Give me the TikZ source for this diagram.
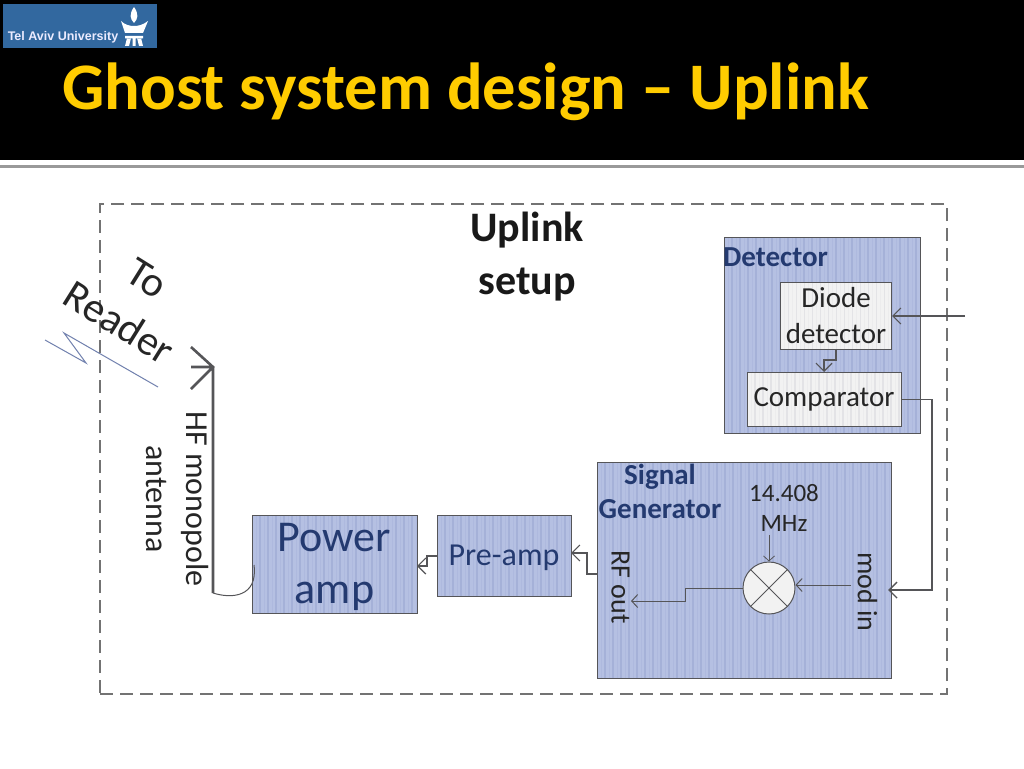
\documentclass[tikz,border=0pt]{standalone}
\usepackage{fontspec}
\setmainfont{Carlito}
\newfontfamily\logofont{Liberation Sans}
\usetikzlibrary{arrows.meta}
\definecolor{boxblue}{HTML}{B5C0E2}
\definecolor{stripeblue}{HTML}{A5B1D8}
\definecolor{boxgrey}{HTML}{F2F2F2}
\definecolor{stripegrey}{HTML}{E3E3E6}
\definecolor{navy}{HTML}{243A70}
\definecolor{edge}{HTML}{555558}
\definecolor{logoblue}{HTML}{32689F}
\definecolor{gold}{HTML}{FFCC00}
\tikzset{
  x=1pt,y=-1pt,
  striped/.style n args={2}{path picture={
    \foreach \k in {0,8,...,320}
      \draw[#1,line width=1.4pt] ([xshift=\k pt]path picture bounding box.south west) -- ([xshift=\k pt]path picture bounding box.north west);
    \foreach \k in {4,12,...,320}
      \draw[#2,line width=1pt] ([xshift=\k pt]path picture bounding box.south west) -- ([xshift=\k pt]path picture bounding box.north west);
  }},
  bluebox/.style={draw=edge,line width=1pt,fill=boxblue,striped={stripeblue}{stripeblue!45!boxblue},inner sep=0pt,align=center},
  greybox/.style={draw=edge,line width=1pt,fill=boxgrey,striped={stripegrey}{stripegrey!40!boxgrey},inner sep=0pt,align=center,text=black!85},
  tag/.style={inner sep=0pt,align=center,font=\fontsize{28}{32}\selectfont,text=black!85},
  head/.style={inner sep=0pt,align=center,font=\bfseries\fontsize{29}{34}\selectfont,text=navy},
  conn/.style={draw=edge,line width=1.2pt,-{Straight Barb[length=8pt,width=16pt,line width=1.2pt]}},
  thin conn/.style={draw=edge,line width=1pt,-{Straight Barb[length=6pt,width=13pt,line width=1pt]}},
}
\begin{document}
\begin{tikzpicture}
\useasboundingbox (0,0) rectangle (1024,768);
\fill[white] (0,0) rectangle (1024,768);
\fill[black] (0,0) rectangle (1024,160);
\fill[black!40] (0,165) rectangle (1024,167.5);
% logo
\node[fill=logoblue,minimum width=154pt,minimum height=44pt,inner sep=0pt] (logo) at (80,26) {};
\node[inner sep=0pt,text=white!92!blue,font=\logofont\bfseries\fontsize{12.5}{14}\selectfont] (logotext) at (63,37) {Tel Aviv University};
\fill[white] (134,7) .. controls (129,14) and (130,19) .. (134,23) .. controls (138,19) and (139,14) .. (134,7) -- cycle;
\fill[white] (121,21) .. controls (125,25) and (130,26) .. (134,26) .. controls (138,26) and (143,25) .. (148,21) -- (143,33) -- (125,33) -- cycle;
\fill[white] (125,36) rectangle (143,38.5) (127,38) -- (131,38) -- (129,46) -- (125,46) -- cycle (137,38) -- (141,38) -- (143,46) -- (139,46) -- cycle (132.5,38) rectangle (135.5,46);
% title
\node[anchor=base west,inner sep=0pt,text=gold,font=\bfseries\fontsize{66.5}{66}\selectfont] (title) at (62,109) {Ghost system design – Uplink};
% frame
\node[draw=black!55,dash pattern=on 13pt off 7pt,line width=1.2pt,minimum width=847pt,minimum height=490pt,inner sep=0pt] (frame) at (523.5,449) {};
\node[inner sep=0pt,align=center,font=\bfseries\fontsize{42}{53}\selectfont,text=black!90] (setup) at (527,257) {Uplink\\setup};
% detector
\node[bluebox,minimum width=196pt,minimum height=196pt] (detector) at (822,335) {};
\node[head,anchor=base west] (dettext) at (723,266) {Detector};
\node[greybox,minimum width=111pt,minimum height=67pt,font=\fontsize{29}{36}\selectfont] (diode) at (836,316) {Diode\\detector};
\node[greybox,minimum width=154pt,minimum height=54pt,font=\fontsize{29}{30}\selectfont] (comp) at (824,399.5) {Comparator};
% signal generator
\node[bluebox,minimum width=294pt,minimum height=216pt] (siggen) at (744,570) {};
\node[head] (sigtext) at (660,491) {Signal\\Generator};
\node[tag,font=\fontsize{25}{30}\selectfont] (freq) at (784,508) {14.408\\MHz};
\node[draw=edge,line width=1pt,circle,fill=boxgrey,minimum size=52pt,inner sep=0pt] (mix) at (769,588) {};
\draw[edge,line width=1pt] (mix.45) -- (mix.225) (mix.135) -- (mix.315);
\node[tag,rotate=-90] (rfout) at (620.5,587) {RF out};
\node[tag,rotate=-90] (modin) at (867.5,592) {mod in};
% amps
\node[bluebox,minimum width=134pt,minimum height=81pt] (pre) at (504,555.5) {};
\node[inner sep=0pt,font=\fontsize{32}{34}\selectfont,text=navy] (pretext) at (504,558) {Pre-amp};
\node[bluebox,minimum width=165pt,minimum height=98pt] (power) at (334.5,564) {};
\node[inner sep=0pt,align=center,font=\fontsize{44}{52}\selectfont,text=navy] (powertext) at (334.5,567) {Power\\amp};
% antenna
\coordinate (anttop) at (213,367);
\coordinate (antbot) at (213,593);
\coordinate (barbup) at (191,347);
\coordinate (barbmid) at (191,367);
\coordinate (barbdn) at (191,389);
\draw[edge,line width=2.6pt] (antbot) -- (anttop) (barbup) -- (anttop) -- (barbdn) (barbmid) -- (anttop);
\draw[edge,line width=1pt] (antbot) .. controls (232,599) and (258,597) .. (254,565);
\node[tag,rotate=-90,font=\fontsize{32}{40}\selectfont] (anttext) at (177,499) {HF monopole\\antenna};
\node[tag,rotate=-32,font=\fontsize{42}{52}\selectfont] (reader) at (133,301) {To\\Reader};
\coordinate (z1) at (45,340);
\coordinate (z2) at (86,363);
\coordinate (z3) at (64,333);
\coordinate (z4) at (158,387);
\draw[stripeblue!60!navy,line width=1pt] (z1) -- (z2) -- (z3) -- (z4);
% connectors
\coordinate (inp) at (965,316);
\draw[conn] (inp) -- (diode.east);
\draw[conn,line width=1.5pt] (diode.south) -- ++(0,10) -| (comp.north);
\coordinate (modhit) at (888,590);
\draw[draw=edge,line width=1.8pt,-{Straight Barb[length=8pt,width=16pt,line width=1.4pt]}] (comp.east) -- (932,399.5) |- (modhit);
\coordinate (modsrc) at (851,585);
\draw[thin conn] (modsrc) -- (mix.east |- modsrc);
\coordinate (freqbot) at (769,535);
\draw[thin conn,-{Straight Barb[length=5pt,width=11pt,line width=.8pt]}] (freqbot) -- (mix.north);
\coordinate (rfhit) at (631,601);
\draw[thin conn] (mix.west) -- (685,588) -- (685,601) -- (rfhit);
\coordinate (sgout) at (597.5,574);
\coordinate (prein) at (571,553);
\draw[conn] (sgout) -- (587,574) -- (587,553) -- (prein);
\coordinate (preout) at (437,556);
\coordinate (powin) at (417,566);
\draw[conn] (preout) -- (427,556) -- (427,566) -- (powin);
\end{tikzpicture}
\end{document}
